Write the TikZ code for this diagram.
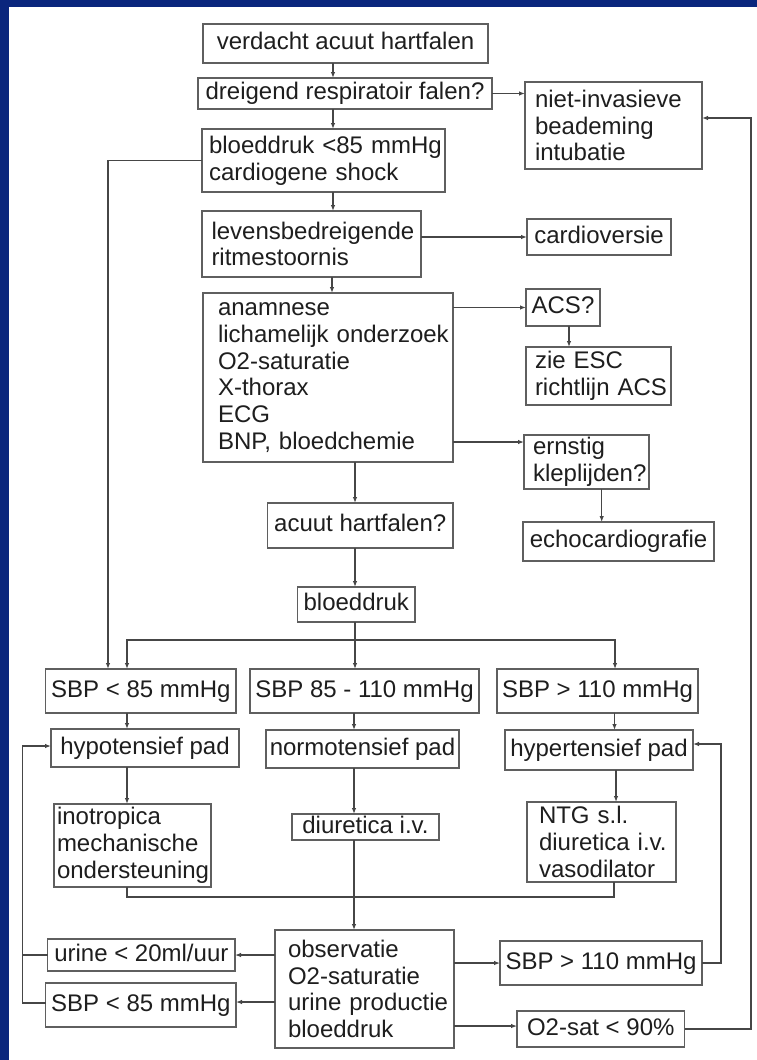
\documentclass[tikz,border=0pt]{standalone}
\usepackage{fontspec}
\setmainfont{Liberation Sans}
\usetikzlibrary{arrows.meta}
\hfuzz=200pt
\hbadness=10000
\definecolor{frameblue}{RGB}{10,38,125}
\definecolor{boxc}{RGB}{95,95,95}
\definecolor{linec}{RGB}{70,70,70}
\definecolor{txt}{RGB}{30,30,30}
\newcommand\ml[1]{\mbox{#1}}
\begin{document}
\begin{tikzpicture}[x=1pt,y=-1pt,
  box/.style={draw=boxc, line width=1.4pt, text=txt, font=\fontsize{24}{26.8}\selectfont, inner ysep=0pt, inner xsep=0pt, outer sep=0pt},
  one/.style={box, align=center, text height=17pt, text depth=5pt},
  multi/.style={box, align=left},
  conn/.style={draw=linec, line width=1.1pt},
  arr/.style={conn, -{Latex[length=6pt,width=4.5pt]}}]
\useasboundingbox (0,0) rectangle (757,1060);
\fill[white] (0,0) rectangle (757,1060);
\fill[frameblue] (0,0) rectangle (757,7);
\fill[frameblue] (0,0) rectangle (9,1060);

% nodes
\node[one, minimum width=285pt, minimum height=39pt] (verd) at (345.5,43.5) {verdacht acuut hartfalen};
\node[one, minimum width=294pt, minimum height=31pt] (drei) at (345,93.5) {dreigend respiratoir falen?};
\node[multi, text width=229pt, inner xsep=7pt, minimum width=243pt, minimum height=63pt] (bd85) at (323.5,160.5) {\ml{bloeddruk <85 mmHg}\\\ml{cardiogene shock}};
\node[multi, text width=157pt, inner xsep=10pt, minimum width=177pt, minimum height=87pt] (niv) at (613.5,125.5) {\ml{niet-invasieve}\\\ml{beademing}\\\ml{intubatie}};
\node[multi, text width=200pt, inner xsep=9.5pt, minimum width=219pt, minimum height=66pt] (lev) at (311.5,244) {\ml{levensbedreigende}\\\ml{ritmestoornis}};
\node[one, minimum width=144pt, minimum height=36pt] (cardio) at (599,237) {cardioversie};
\node[multi, text width=220pt, inner xsep=15pt, minimum width=250pt, minimum height=169pt] (anam) at (328,377.5) {\ml{anamnese}\\\ml{lichamelijk onderzoek}\\\ml{O2-saturatie}\\\ml{X-thorax}\\\ml{ECG}\\\ml{BNP, bloedchemie}};
\node[one, minimum width=74pt, minimum height=37pt] (acs) at (563,307.5) {ACS?};
\node[multi, text width=127pt, inner xsep=9pt, minimum width=145pt, minimum height=58pt] (esc) at (598.5,376) {\ml{zie ESC}\\\ml{richtlijn ACS}};
\node[multi, text width=107pt, inner xsep=9pt, minimum width=125pt, minimum height=54pt] (ernst) at (586.5,462) {\ml{ernstig}\\\ml{kleplijden?}};
\node[one, minimum width=191pt, minimum height=39pt] (echo) at (618.5,541.5) {echocardiografie};
\node[one, minimum width=185.5pt, minimum height=45pt] (acuut) at (360.25,525.5) {acuut hartfalen?};
\node[one, minimum width=117.4pt, minimum height=35pt] (bdr) at (356.3,604.5) {bloeddruk};
\node[one, minimum width=190.3pt, minimum height=44pt] (sbpL) at (140.85,691) {SBP < 85 mmHg};
\node[one, minimum width=229pt, minimum height=44pt] (sbpM) at (364.5,691) {SBP 85 - 110 mmHg};
\node[one, minimum width=201pt, minimum height=44pt] (sbpR) at (597.5,691) {SBP > 110 mmHg};
\node[one, minimum width=188pt, minimum height=38pt] (hypo) at (145,748) {hypotensief pad};
\node[one, minimum width=193pt, minimum height=38pt] (normo) at (362.5,749) {normotensief pad};
\node[one, minimum width=188pt, minimum height=40pt] (hyper) at (599,750) {hypertensief pad};
\node[multi, text width=151pt, inner xsep=3pt, minimum width=157pt, minimum height=83pt] (ino) at (132.5,845.5) {\ml{inotropica}\\\ml{mechanische}\\\ml{ondersteuning}};
\node[one, minimum width=147pt, minimum height=26pt] (diur) at (365.5,827) {diuretica i.v.};
\node[multi, text width=125pt, inner xsep=12pt, minimum width=149pt, minimum height=80pt] (ntg) at (601.5,842) {\ml{NTG s.l.}\\\ml{diuretica i.v.}\\\ml{vasodilator}};
\node[multi, text width=153pt, inner xsep=13pt, minimum width=179pt, minimum height=118pt] (obs) at (364.5,989) {\ml{observatie}\\\ml{O2-saturatie}\\\ml{urine productie}\\\ml{bloeddruk}};
\node[one, minimum width=187.3pt, minimum height=32pt] (urine) at (141.35,955) {urine < 20ml/uur};
\node[one, minimum width=190.3pt, minimum height=44pt] (sbpL2) at (140.85,1005) {SBP < 85 mmHg};
\node[one, minimum width=202pt, minimum height=44pt] (sbpR2) at (601,963) {SBP > 110 mmHg};
\node[one, minimum width=167.5pt, minimum height=36pt] (o2) at (600.75,1029) {O2-sat < 90\%};

% connectors
\draw[arr] (333,0 |- verd.south) -- (333,0 |- drei.north);
\draw[arr] (drei.east) -- (niv.west |- drei.east);
\draw[arr] (333,0 |- drei.south) -- (333,0 |- bd85.north);
\draw[arr] (bd85.west) -| (108,0 |- sbpL.north);
\draw[arr] (333,0 |- bd85.south) -- (333,0 |- lev.north);
\draw[arr] (lev.east |- cardio.west) -- (cardio.west);
\draw[arr] (332,0 |- lev.south) -- (332,0 |- anam.north);
\draw[arr] (anam.east |- acs.west) -- (acs.west);
\draw[arr] (569,0 |- acs.south) -- (569,0 |- esc.north);
\draw[arr] (anam.east |- 0,442) -- (ernst.west |- 0,442);
\draw[arr] (601.7,0 |- ernst.south) -- (601.7,0 |- echo.north);
\draw[arr] (355,0 |- anam.south) -- (355,0 |- acuut.north);
\draw[arr] (355,0 |- acuut.south) -- (355,0 |- bdr.north);
\draw[arr] (355,0 |- bdr.south) -- (355,0 |- sbpM.north);
\coordinate (split) at (355,640);
\draw[arr] (split) -| (127,0 |- sbpL.north);
\draw[arr] (split) -| (615,0 |- sbpR.north);
\draw[arr] (127,0 |- sbpL.south) -- (127,0 |- hypo.north);
\draw[arr] (354,0 |- sbpM.south) -- (354,0 |- normo.north);
\draw[arr] (614.5,0 |- sbpR.south) -- (614.5,0 |- hyper.north);
\draw[arr] (127,0 |- hypo.south) -- (127,0 |- ino.north);
\draw[arr] (354,0 |- normo.south) -- (354,0 |- diur.north);
\draw[arr] (616,0 |- hyper.south) -- (616,0 |- ntg.north);
\draw[conn] (127,0 |- ino.south) |- (614,897) -- (614,0 |- ntg.south);
\draw[arr] (354,0 |- diur.south) -- (354,0 |- obs.north);
\draw[arr] (obs.west |- urine.east) -- (urine.east);
\draw[arr] (obs.west |- 0,1002) -- (sbpL2.east |- 0,1002);
\draw[conn] (urine.west) -- (22.7,0 |- urine.west);
\draw[arr] (sbpL2.west |- 0,1003) -| (22.7,746) -- (hypo.west |- 0,746);
\draw[arr] (obs.east |- sbpR2.west) -- (sbpR2.west);
\draw[arr] (sbpR2.east) -| (721,744) -- (hyper.east |- 0,744);
\draw[arr] (obs.east |- 0,1026) -- (o2.west |- 0,1026);
\draw[arr] (o2.east) -| (751,118) -- (niv.east |- 0,118);
\end{tikzpicture}
\end{document}
